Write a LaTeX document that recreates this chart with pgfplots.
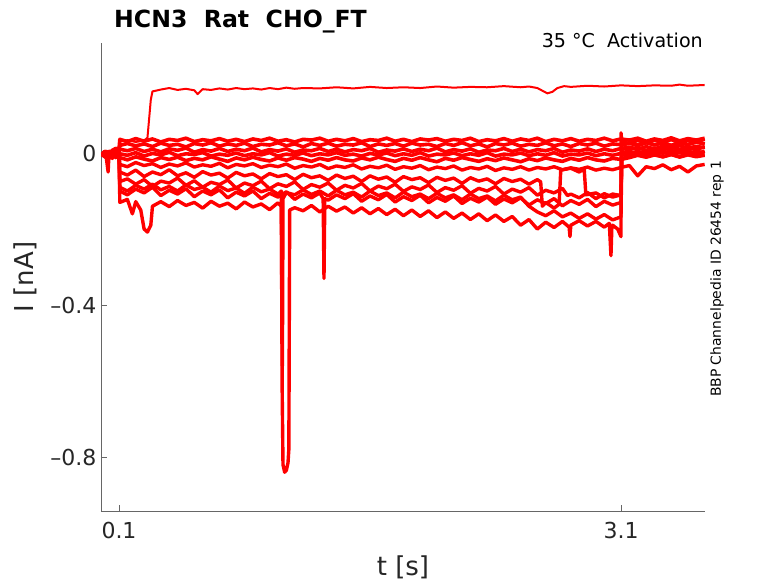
\documentclass[border=0pt]{standalone}
\usepackage{pgfplots}
\pgfplotsset{compat=1.18}
\usepackage{fontspec}
\setmainfont{DejaVu Sans}
\definecolor{axgray}{RGB}{102,102,102}
\definecolor{txt}{RGB}{38,38,38}
\tikzset{tr/.style={color=red, line width=3.6pt, line join=round, mark=none, solid},
         trb/.style={color=red, line width=3.4pt, line join=round, mark=none, solid}}
\begin{document}
\begin{tikzpicture}
\begin{axis}[
  scale only axis, width=604pt, height=468pt,
  xmin=-0.0076, xmax=3.602, ymin=-0.942, ymax=0.2895,
  axis x line*=bottom, axis y line*=left,
  axis line style={axgray, line width=0.8pt},
  tick align=inside, major tick length=6pt,
  tick style={axgray, line width=0.8pt},
  xtick={0.1,3.1}, xticklabels={0.1,3.1},
  ytick={-0.8,-0.4,0}, yticklabels={–0.8,–0.4,0},
  ticklabel style={font=\fontsize{22}{26}\selectfont, text=txt},
  xticklabel style={yshift=-8pt},
  yticklabel style={xshift=-1pt},
  xlabel={t [s]}, ylabel={I [nA]},
  label style={font=\fontsize{26}{30}\selectfont, text=txt},
  xlabel style={yshift=-10pt},
  ylabel style={yshift=7pt},
  clip mode=individual,
]
% T1 top
\addplot[tr, line width=2pt] coordinates {(0,0.001)(0.02,-0.003)(0.04,0.004)(0.06,0.006)(0.08,0.011)(0.1,0.012)(0.105,0.03)(0.15,0.034)(0.2,0.029)(0.25,0.033)(0.27,0.04)(0.28,0.09)(0.29,0.14)(0.3,0.162)(0.35,0.167)(0.4,0.171)(0.45,0.166)(0.5,0.169)(0.55,0.165)(0.57,0.155)(0.6,0.168)(0.65,0.166)(0.7,0.17)(0.75,0.167)(0.8,0.171)(0.85,0.168)(0.9,0.17)(0.95,0.167)(1.0,0.171)(1.05,0.168)(1.1,0.172)(1.15,0.169)(1.2,0.171)(1.3,0.17)(1.4,0.173)(1.5,0.17)(1.6,0.174)(1.7,0.171)(1.8,0.173)(1.9,0.171)(2.0,0.175)(2.1,0.172)(2.2,0.174)(2.3,0.173)(2.4,0.176)(2.5,0.173)(2.55,0.175)(2.6,0.171)(2.63,0.164)(2.66,0.157)(2.69,0.161)(2.72,0.171)(2.76,0.176)(2.8,0.174)(2.9,0.177)(3.0,0.175)(3.1,0.178)(3.2,0.176)(3.3,0.178)(3.4,0.177)(3.45,0.18)(3.5,0.177)(3.6,0.179)};
% T2
\addplot[tr] coordinates {(0,-0.008)(0.02,0.004)(0.04,-0.001)(0.06,0.007)(0.08,0.012)(0.1,0.01)(0.105,0.036)(0.15,0.03)(0.2,0.038)(0.25,0.031)(0.3,0.037)(0.35,0.029)(0.4,0.036)(0.45,0.033)(0.5,0.039)(0.55,0.03)(0.6,0.035)(0.65,0.032)(0.7,0.038)(0.75,0.031)(0.8,0.036)(0.85,0.03)(0.9,0.037)(0.95,0.033)(1.0,0.039)(1.05,0.031)(1.1,0.035)(1.15,0.029)(1.2,0.036)(1.25,0.034)(1.3,0.039)(1.35,0.031)(1.4,0.036)(1.45,0.032)(1.5,0.038)(1.55,0.03)(1.6,0.035)(1.65,0.033)(1.7,0.039)(1.75,0.031)(1.8,0.036)(1.85,0.03)(1.9,0.037)(1.95,0.034)(2.0,0.038)(2.05,0.031)(2.1,0.036)(2.15,0.033)(2.2,0.039)(2.25,0.03)(2.3,0.035)(2.35,0.032)(2.4,0.038)(2.45,0.031)(2.5,0.037)(2.55,0.033)(2.6,0.039)(2.65,0.03)(2.7,0.036)(2.75,0.032)(2.8,0.038)(2.85,0.031)(2.9,0.036)(2.95,0.033)(3.0,0.039)(3.05,0.032)(3.1,0.037)(3.15,0.034)(3.2,0.039)(3.25,0.031)(3.3,0.037)(3.35,0.033)(3.4,0.04)(3.45,0.032)(3.5,0.038)(3.55,0.034)(3.6,0.039)};
% T3
\addplot[tr] coordinates {(0,0.003)(0.02,-0.012)(0.04,0.002)(0.06,-0.006)(0.08,0.006)(0.1,0.004)(0.105,0.02)(0.15,0.025)(0.2,0.019)(0.25,0.024)(0.3,0.017)(0.35,0.026)(0.4,0.02)(0.45,0.023)(0.5,0.016)(0.55,0.025)(0.6,0.021)(0.65,0.027)(0.7,0.018)(0.75,0.024)(0.8,0.02)(0.85,0.026)(0.9,0.017)(0.95,0.023)(1.0,0.021)(1.05,0.027)(1.1,0.019)(1.15,0.024)(1.2,0.016)(1.25,0.025)(1.3,0.02)(1.35,0.026)(1.4,0.018)(1.45,0.023)(1.5,0.021)(1.55,0.027)(1.6,0.017)(1.65,0.024)(1.7,0.02)(1.75,0.025)(1.8,0.018)(1.85,0.026)(1.9,0.021)(1.95,0.023)(2.0,0.017)(2.05,0.025)(2.1,0.02)(2.15,0.027)(2.2,0.019)(2.25,0.024)(2.3,0.016)(2.35,0.025)(2.4,0.021)(2.45,0.026)(2.5,0.018)(2.55,0.023)(2.6,0.02)(2.65,0.027)(2.7,0.019)(2.75,0.024)(2.8,0.017)(2.85,0.025)(2.9,0.021)(2.95,0.026)(3.0,0.018)(3.05,0.024)(3.1,0.022)(3.15,0.027)(3.2,0.021)(3.25,0.028)(3.3,0.022)(3.35,0.026)(3.4,0.02)(3.45,0.027)(3.5,0.023)(3.55,0.029)(3.6,0.024)};
% T4
\addplot[tr] coordinates {(0,-0.003)(0.02,0.002)(0.04,-0.015)(0.06,0.003)(0.08,0.001)(0.1,0.006)(0.105,0.01)(0.15,0.006)(0.2,0.012)(0.25,0.004)(0.3,0.01)(0.35,0.003)(0.4,0.011)(0.45,0.007)(0.5,0.013)(0.55,0.002)(0.6,0.009)(0.65,0.005)(0.7,0.012)(0.75,0.004)(0.8,0.01)(0.85,0.006)(0.9,0.013)(0.95,0.003)(1.0,0.009)(1.05,0.005)(1.1,0.011)(1.15,0.002)(1.2,0.008)(1.25,0.006)(1.3,0.012)(1.35,0.004)(1.4,0.01)(1.45,0.003)(1.5,0.009)(1.55,0.006)(1.6,0.012)(1.65,0.002)(1.7,0.008)(1.75,0.005)(1.8,0.011)(1.85,0.004)(1.9,0.01)(1.95,0.006)(2.0,0.013)(2.05,0.003)(2.1,0.009)(2.15,0.005)(2.2,0.011)(2.25,0.002)(2.3,0.008)(2.35,0.006)(2.4,0.012)(2.45,0.004)(2.5,0.01)(2.55,0.003)(2.6,0.009)(2.65,0.006)(2.7,0.012)(2.75,0.002)(2.8,0.008)(2.85,0.005)(2.9,0.011)(2.95,0.004)(3.0,0.01)(3.05,0.006)(3.1,0.012)(3.15,0.009)(3.2,0.014)(3.25,0.007)(3.3,0.013)(3.35,0.008)(3.4,0.015)(3.45,0.009)(3.5,0.014)(3.55,0.01)(3.6,0.016)};
% T5
\addplot[tr] coordinates {(0,0.004)(0.02,-0.002)(0.04,0.001)(0.06,-0.014)(0.08,0.003)(0.1,0.0)(0.105,-0.002)(0.15,-0.006)(0.2,0.001)(0.25,-0.008)(0.3,-0.001)(0.35,-0.005)(0.4,0.002)(0.45,-0.007)(0.5,-0.002)(0.55,-0.004)(0.6,0.001)(0.65,-0.008)(0.7,-0.003)(0.75,-0.006)(0.8,0.0)(0.85,-0.007)(0.9,-0.002)(0.95,-0.005)(1.0,0.001)(1.05,-0.008)(1.1,-0.003)(1.15,-0.006)(1.2,0.0)(1.25,-0.007)(1.3,-0.002)(1.35,-0.005)(1.4,0.001)(1.45,-0.006)(1.5,-0.003)(1.55,-0.008)(1.6,-0.001)(1.65,-0.005)(1.7,0.0)(1.75,-0.007)(1.8,-0.002)(1.85,-0.006)(1.9,0.001)(1.95,-0.008)(2.0,-0.003)(2.05,-0.005)(2.1,0.0)(2.15,-0.007)(2.2,-0.002)(2.25,-0.006)(2.3,0.001)(2.35,-0.008)(2.4,-0.003)(2.45,-0.005)(2.5,0.0)(2.55,-0.007)(2.6,-0.002)(2.65,-0.006)(2.7,0.001)(2.75,-0.008)(2.8,-0.003)(2.85,-0.005)(2.9,0.0)(2.95,-0.007)(3.0,-0.002)(3.05,-0.006)(3.1,-0.001)(3.15,0.002)(3.2,-0.003)(3.25,0.004)(3.3,-0.002)(3.35,0.003)(3.4,-0.001)(3.45,0.005)(3.5,0.0)(3.55,0.004)(3.6,0.001)};
% T6
\addplot[tr] coordinates {(0,-0.011)(0.02,0.003)(0.04,-0.004)(0.06,0.002)(0.08,-0.012)(0.1,0.003)(0.105,-0.012)(0.15,-0.018)(0.2,-0.01)(0.25,-0.016)(0.3,-0.021)(0.35,-0.012)(0.4,-0.017)(0.45,-0.011)(0.5,-0.02)(0.55,-0.014)(0.6,-0.018)(0.65,-0.01)(0.7,-0.016)(0.75,-0.022)(0.8,-0.013)(0.85,-0.018)(0.9,-0.011)(0.95,-0.017)(1.0,-0.021)(1.05,-0.013)(1.1,-0.019)(1.15,-0.012)(1.2,-0.016)(1.25,-0.022)(1.3,-0.014)(1.35,-0.019)(1.4,-0.012)(1.45,-0.018)(1.5,-0.021)(1.55,-0.013)(1.6,-0.018)(1.65,-0.011)(1.7,-0.017)(1.75,-0.022)(1.8,-0.014)(1.85,-0.019)(1.9,-0.012)(1.95,-0.018)(2.0,-0.023)(2.05,-0.014)(2.1,-0.019)(2.15,-0.012)(2.2,-0.017)(2.25,-0.022)(2.3,-0.015)(2.35,-0.02)(2.4,-0.013)(2.45,-0.018)(2.5,-0.023)(2.55,-0.015)(2.6,-0.02)(2.65,-0.013)(2.7,-0.018)(2.75,-0.022)(2.8,-0.014)(2.85,-0.019)(2.9,-0.012)(2.95,-0.018)(3.0,-0.021)(3.05,-0.014)(3.1,-0.017)(3.15,-0.012)(3.2,-0.006)(3.25,-0.011)(3.3,-0.005)(3.35,-0.01)(3.4,-0.004)(3.45,-0.009)(3.5,-0.003)(3.55,-0.008)(3.6,-0.004)};
% T7
\addplot[trb] coordinates {(0,0.002)(0.02,-0.005)(0.04,0.001)(0.06,-0.003)(0.08,0.004)(0.1,-0.002)(0.105,-0.03)(0.15,-0.036)(0.2,-0.025)(0.25,-0.033)(0.3,-0.028)(0.35,-0.038)(0.4,-0.029)(0.45,-0.034)(0.5,-0.026)(0.55,-0.037)(0.6,-0.031)(0.65,-0.035)(0.7,-0.027)(0.75,-0.039)(0.8,-0.03)(0.85,-0.034)(0.9,-0.028)(0.95,-0.038)(1.0,-0.032)(1.05,-0.036)(1.1,-0.029)(1.15,-0.04)(1.2,-0.033)(1.25,-0.037)(1.3,-0.03)(1.35,-0.041)(1.4,-0.034)(1.45,-0.038)(1.5,-0.031)(1.55,-0.042)(1.6,-0.035)(1.65,-0.039)(1.7,-0.032)(1.75,-0.043)(1.8,-0.036)(1.85,-0.04)(1.9,-0.033)(1.95,-0.044)(2.0,-0.037)(2.05,-0.041)(2.1,-0.034)(2.15,-0.045)(2.2,-0.038)(2.25,-0.042)(2.3,-0.035)(2.35,-0.046)(2.4,-0.039)(2.45,-0.043)(2.5,-0.036)(2.55,-0.045)(2.6,-0.038)(2.65,-0.042)(2.7,-0.036)(2.75,-0.044)(2.8,-0.039)(2.85,-0.043)(2.9,-0.037)(2.95,-0.045)(3.0,-0.04)(3.05,-0.044)(3.1,-0.038)(3.15,-0.033)(3.2,-0.06)(3.25,-0.036)(3.3,-0.041)(3.35,-0.031)(3.4,-0.044)(3.45,-0.035)(3.5,-0.05)(3.55,-0.034)(3.6,-0.03)};
% T8
\addplot[trb] coordinates {(0,-0.004)(0.02,0.002)(0.035,-0.05)(0.04,-0.003)(0.06,0.005)(0.08,0.0)(0.1,0.004)(0.105,-0.05)(0.15,-0.058)(0.2,-0.045)(0.25,-0.062)(0.3,-0.05)(0.35,-0.057)(0.4,-0.044)(0.45,-0.06)(0.5,-0.052)(0.55,-0.064)(0.6,-0.049)(0.65,-0.058)(0.7,-0.053)(0.75,-0.066)(0.8,-0.051)(0.85,-0.06)(0.9,-0.055)(0.95,-0.068)(1.0,-0.054)(1.05,-0.062)(1.1,-0.057)(1.15,-0.07)(1.2,-0.056)(1.25,-0.065)(1.3,-0.06)(1.35,-0.072)(1.4,-0.058)(1.45,-0.067)(1.5,-0.061)(1.55,-0.075)(1.6,-0.06)(1.65,-0.069)(1.7,-0.063)(1.75,-0.077)(1.8,-0.062)(1.85,-0.07)(1.9,-0.065)(1.95,-0.078)(2.0,-0.064)(2.05,-0.072)(2.1,-0.066)(2.15,-0.08)(2.2,-0.065)(2.25,-0.074)(2.3,-0.068)(2.35,-0.081)(2.4,-0.067)(2.45,-0.075)(2.5,-0.069)(2.55,-0.082)(2.6,-0.07)(2.62,-0.076)(2.63,-0.14)(2.65,-0.13)(2.7,-0.145)(2.73,-0.135)(2.74,-0.045)(2.8,-0.04)(2.85,-0.05)(2.88,-0.042)(2.89,-0.11)(2.95,-0.105)(3.0,-0.118)(3.05,-0.108)(3.1,-0.112)(3.105,0.012)(3.15,0.016)(3.2,0.01)(3.25,0.017)(3.3,0.011)(3.35,0.018)(3.4,0.012)(3.45,0.019)(3.5,0.013)(3.55,0.018)(3.6,0.014)};
% T9
\addplot[trb] coordinates {(0,0.003)(0.02,-0.002)(0.04,0.005)(0.06,-0.001)(0.08,0.002)(0.1,-0.003)(0.105,-0.075)(0.15,-0.068)(0.2,-0.082)(0.25,-0.07)(0.3,-0.088)(0.35,-0.074)(0.4,-0.079)(0.45,-0.066)(0.5,-0.085)(0.55,-0.073)(0.6,-0.09)(0.65,-0.077)(0.7,-0.083)(0.75,-0.071)(0.8,-0.092)(0.85,-0.079)(0.9,-0.086)(0.95,-0.074)(1.0,-0.094)(1.05,-0.081)(1.1,-0.088)(1.15,-0.076)(1.2,-0.096)(1.25,-0.083)(1.3,-0.09)(1.35,-0.079)(1.4,-0.098)(1.45,-0.085)(1.5,-0.092)(1.55,-0.08)(1.6,-0.1)(1.65,-0.087)(1.7,-0.094)(1.75,-0.082)(1.8,-0.101)(1.85,-0.089)(1.9,-0.096)(1.95,-0.084)(2.0,-0.104)(2.05,-0.091)(2.1,-0.098)(2.15,-0.086)(2.2,-0.106)(2.25,-0.093)(2.3,-0.1)(2.35,-0.088)(2.4,-0.108)(2.45,-0.095)(2.5,-0.103)(2.55,-0.091)(2.6,-0.111)(2.65,-0.098)(2.7,-0.105)(2.75,-0.093)(2.78,-0.112)(2.8,-0.108)(2.85,-0.118)(2.9,-0.104)(2.95,-0.12)(3.0,-0.107)(3.05,-0.116)(3.1,-0.11)(3.105,0.004)(3.15,-0.002)(3.2,0.005)(3.25,-0.003)(3.3,0.006)(3.35,-0.001)(3.4,0.007)(3.45,0.0)(3.5,0.006)(3.55,-0.002)(3.6,0.005)};
% T10
\addplot[trb] coordinates {(0,-0.002)(0.02,0.004)(0.04,-0.003)(0.06,0.001)(0.08,0.006)(0.1,0.002)(0.105,-0.1)(0.15,-0.11)(0.2,-0.095)(0.25,-0.105)(0.3,-0.09)(0.35,-0.112)(0.4,-0.098)(0.45,-0.108)(0.5,-0.094)(0.55,-0.115)(0.6,-0.1)(0.65,-0.11)(0.7,-0.097)(0.75,-0.118)(0.8,-0.103)(0.85,-0.113)(0.9,-0.1)(0.95,-0.12)(1.0,-0.106)(1.05,-0.116)(1.1,-0.102)(1.15,-0.122)(1.2,-0.108)(1.25,-0.118)(1.3,-0.105)(1.32,-0.12)(1.325,-0.33)(1.33,-0.12)(1.35,-0.124)(1.4,-0.11)(1.45,-0.12)(1.5,-0.107)(1.55,-0.127)(1.6,-0.113)(1.65,-0.123)(1.7,-0.109)(1.75,-0.129)(1.8,-0.115)(1.85,-0.125)(1.9,-0.111)(1.95,-0.131)(2.0,-0.117)(2.05,-0.127)(2.1,-0.113)(2.15,-0.133)(2.2,-0.119)(2.25,-0.129)(2.3,-0.116)(2.35,-0.135)(2.4,-0.121)(2.45,-0.131)(2.5,-0.118)(2.55,-0.137)(2.6,-0.123)(2.65,-0.133)(2.7,-0.12)(2.75,-0.139)(2.8,-0.125)(2.85,-0.135)(2.9,-0.122)(2.95,-0.141)(3.0,-0.127)(3.05,-0.137)(3.1,-0.13)(3.105,0.02)(3.15,0.026)(3.2,0.019)(3.25,0.027)(3.3,0.021)(3.35,0.028)(3.4,0.02)(3.45,0.027)(3.5,0.022)(3.55,0.029)(3.6,0.023)};
% T11
\addplot[trb] coordinates {(0,0.001)(0.02,-0.003)(0.04,0.003)(0.06,0.0)(0.08,0.005)(0.1,0.001)(0.105,-0.13)(0.15,-0.122)(0.18,-0.16)(0.2,-0.128)(0.23,-0.15)(0.25,-0.2)(0.27,-0.208)(0.29,-0.19)(0.3,-0.14)(0.35,-0.128)(0.4,-0.141)(0.45,-0.125)(0.5,-0.138)(0.55,-0.13)(0.6,-0.145)(0.65,-0.127)(0.7,-0.14)(0.75,-0.132)(0.8,-0.147)(0.85,-0.129)(0.9,-0.142)(0.95,-0.134)(1.0,-0.149)(1.05,-0.131)(1.07,-0.14)(1.075,-0.62)(1.08,-0.82)(1.09,-0.84)(1.1,-0.835)(1.11,-0.815)(1.115,-0.78)(1.12,-0.15)(1.15,-0.144)(1.2,-0.152)(1.25,-0.138)(1.3,-0.155)(1.35,-0.14)(1.4,-0.153)(1.45,-0.142)(1.5,-0.158)(1.55,-0.144)(1.6,-0.16)(1.65,-0.146)(1.7,-0.162)(1.75,-0.148)(1.8,-0.165)(1.85,-0.15)(1.9,-0.167)(1.95,-0.152)(2.0,-0.17)(2.05,-0.155)(2.1,-0.172)(2.15,-0.158)(2.2,-0.175)(2.25,-0.16)(2.3,-0.178)(2.35,-0.163)(2.4,-0.18)(2.45,-0.167)(2.5,-0.19)(2.55,-0.175)(2.6,-0.2)(2.65,-0.182)(2.7,-0.196)(2.75,-0.18)(2.79,-0.195)(2.795,-0.22)(2.8,-0.19)(2.85,-0.178)(2.9,-0.192)(2.95,-0.18)(3.0,-0.195)(3.03,-0.185)(3.04,-0.27)(3.045,-0.2)(3.05,-0.19)(3.08,-0.2)(3.1,-0.22)(3.1,0.053)(3.105,0.03)(3.15,0.025)(3.2,0.033)(3.25,0.026)(3.3,0.034)(3.35,0.028)(3.4,0.035)(3.45,0.027)(3.5,0.034)(3.55,0.029)(3.6,0.036)};
% T12
\addplot[trb] coordinates {(0,-0.001)(0.02,0.005)(0.04,-0.002)(0.06,0.004)(0.08,-0.001)(0.1,0.003)(0.105,-0.09)(0.15,-0.1)(0.2,-0.085)(0.25,-0.095)(0.3,-0.082)(0.35,-0.097)(0.4,-0.088)(0.45,-0.1)(0.5,-0.084)(0.55,-0.096)(0.6,-0.09)(0.65,-0.103)(0.7,-0.087)(0.75,-0.099)(0.8,-0.092)(0.85,-0.106)(0.9,-0.09)(0.95,-0.102)(1.0,-0.095)(1.05,-0.108)(1.07,-0.1)(1.072,-0.32)(1.074,-0.3)(1.076,-0.56)(1.078,-0.4)(1.08,-0.12)(1.1,-0.104)(1.15,-0.11)(1.2,-0.097)(1.25,-0.109)(1.3,-0.1)(1.35,-0.113)(1.4,-0.098)(1.45,-0.11)(1.5,-0.103)(1.55,-0.116)(1.6,-0.1)(1.65,-0.112)(1.7,-0.105)(1.75,-0.118)(1.8,-0.103)(1.85,-0.115)(1.9,-0.108)(1.95,-0.12)(2.0,-0.106)(2.05,-0.118)(2.1,-0.11)(2.15,-0.123)(2.2,-0.108)(2.25,-0.12)(2.3,-0.113)(2.35,-0.126)(2.4,-0.111)(2.45,-0.123)(2.5,-0.116)(2.55,-0.14)(2.6,-0.155)(2.65,-0.165)(2.7,-0.152)(2.75,-0.168)(2.8,-0.158)(2.85,-0.172)(2.9,-0.16)(2.95,-0.174)(3.0,-0.162)(3.05,-0.176)(3.1,-0.168)(3.105,-0.004)(3.15,-0.008)(3.2,-0.002)(3.25,-0.009)(3.3,-0.003)(3.35,-0.01)(3.4,-0.004)(3.45,-0.011)(3.5,-0.005)(3.55,-0.01)(3.6,-0.006)};
% annotations
\node[anchor=base west, inner sep=0pt, font=\fontsize{23.6}{28}\selectfont\bfseries, text=black]
  at ([xshift=13pt, yshift=15pt]rel axis cs:0,1) {HCN3\ \ Rat\ \ CHO\_FT};
\node[anchor=base east, inner sep=0pt, font=\fontsize{19.1}{23}\selectfont, text=black]
  at ([xshift=-2pt, yshift=-5pt]rel axis cs:1,1) {35 °C\ \ Activation};
\node[anchor=north, rotate=90, inner sep=0pt, font=\fontsize{13.9}{16}\selectfont, text=black]
  at ([xshift=5pt, yshift=-2pt]rel axis cs:1,0.5) {BBP Channelpedia ID 26454 rep 1};
\end{axis}
\pgfresetboundingbox
\path[use as bounding box] (-101pt,-72pt) rectangle (677pt,511pt);
\end{tikzpicture}
\end{document}
